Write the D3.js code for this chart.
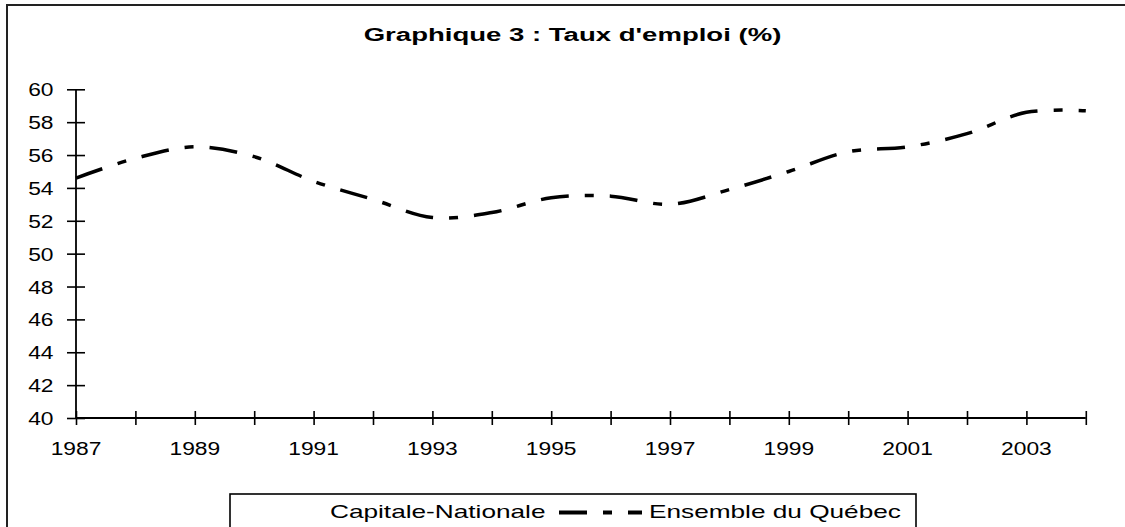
<!DOCTYPE html>
<html>
<head>
<meta charset="utf-8">
<script src="https://cdnjs.cloudflare.com/ajax/libs/d3/7.8.5/d3.min.js"></script>
<style>
  html, body { margin: 0; padding: 0; background: #fff; }
  svg { display: block; font-family: "Liberation Sans", Arial, sans-serif; }
</style>
</head>
<body>
<div id="chart"></div>
<script>
// Data
const years = [1987, 1988, 1989, 1990, 1991, 1992, 1993, 1994, 1995,
               1996, 1997, 1998, 1999, 2000, 2001, 2002, 2003, 2004];
const quebec = [54.6, 55.8, 56.5, 55.9, 54.4, 53.3, 52.2, 52.5, 53.4,
                53.5, 53.0, 53.9, 55.0, 56.2, 56.5, 57.3, 58.6, 58.7];
const yearLabels = [1987, 1989, 1991, 1993, 1995, 1997, 1999, 2001, 2003];
const yTicks = [40, 42, 44, 46, 48, 50, 52, 54, 56, 58, 60];
const seriesNames = ["Capitale-Nationale", "Ensemble du Québec"];

const W = 1125, H = 527;
const plot = { left: 76, right: 1085.8, top: 89.3, bottom: 418 };
const dash = "28,16,9,16";

const svg = d3.select("#chart").append("svg")
  .attr("width", W)
  .attr("height", H);

// outer frame (runs off the right and bottom edges)
svg.append("rect")
  .attr("x", 7).attr("y", 5)
  .attr("width", 1300).attr("height", 700)
  .attr("fill", "none")
  .attr("stroke", "#222")
  .attr("stroke-width", 2);

// helper: text squeezed wider like in the source picture
function stretchedText(g, x, y, str, k, anchor) {
  return g.append("g")
    .attr("transform", "translate(" + x + "," + y + ") scale(" + k + ",1)")
    .append("text")
    .attr("text-anchor", anchor)
    .attr("fill", "#000")
    .text(str);
}

// title
stretchedText(svg, 572.5, 41, "Graphique 3 : Taux d'emploi (%)", 1.45, "middle")
  .style("font-size", "19px")
  .style("font-weight", "bold");

// scales
const x = d3.scalePoint()
  .domain(years)
  .range([plot.left, plot.right]);

const y = d3.scaleLinear()
  .domain([40, 60])
  .range([plot.bottom, plot.top]);

// y axis
const yAxis = d3.axisLeft(y)
  .tickValues(yTicks)
  .tickSize(9)
  .tickFormat("");

const gy = svg.append("g")
  .attr("transform", "translate(" + plot.left + ",0)")
  .call(yAxis);
gy.select(".domain").remove();
gy.selectAll(".tick line")
  .attr("x1", -9).attr("x2", 9)
  .attr("stroke", "#000").attr("stroke-width", 1.6);

yTicks.forEach(v => {
  stretchedText(svg, 53.5, y(v) + 7, String(v), 1.2, "end")
    .style("font-size", "19px");
});

// x axis
const xAxis = d3.axisBottom(x)
  .tickSize(7)
  .tickFormat("");

const gx = svg.append("g")
  .attr("transform", "translate(0," + plot.bottom + ")")
  .call(xAxis);
gx.select(".domain").remove();
gx.selectAll(".tick line")
  .attr("y1", -7).attr("y2", 7)
  .attr("stroke", "#000").attr("stroke-width", 1.6);

yearLabels.forEach(yr => {
  stretchedText(svg, x(yr), 454.5, String(yr), 1.2, "middle")
    .style("font-size", "19px");
});

// axis lines
svg.append("line")
  .attr("x1", plot.left).attr("x2", plot.left)
  .attr("y1", y(60)).attr("y2", plot.bottom)
  .attr("stroke", "#000").attr("stroke-width", 1.8);
svg.append("line")
  .attr("x1", plot.left).attr("x2", x(2004))
  .attr("y1", plot.bottom).attr("y2", plot.bottom)
  .attr("stroke", "#000").attr("stroke-width", 1.8);

// Ensemble du Québec line (smoothed, long dash / short dash)
const line = d3.line()
  .x((d, i) => x(years[i]))
  .y(d => y(d))
  .curve(d3.curveCatmullRom.alpha(0.5));

svg.append("path")
  .datum(quebec)
  .attr("d", line)
  .attr("fill", "none")
  .attr("stroke", "#000")
  .attr("stroke-width", 3.5)
  .attr("stroke-dasharray", dash);

// legend
const leg = svg.append("g");
leg.append("rect")
  .attr("x", 230).attr("y", 494)
  .attr("width", 686).attr("height", 100)
  .attr("fill", "#fff")
  .attr("stroke", "#000")
  .attr("stroke-width", 1.6);

// first sample is white in the source, so it does not show
leg.append("line")
  .attr("x1", 245).attr("x2", 320)
  .attr("y1", 512.5).attr("y2", 512.5)
  .attr("stroke", "#fff").attr("stroke-width", 3.4);
stretchedText(leg, 330, 517.5, seriesNames[0], 1.38, "start")
  .style("font-size", "19px");

leg.append("line")
  .attr("x1", 559).attr("x2", 642)
  .attr("y1", 512.5).attr("y2", 512.5)
  .attr("stroke", "#000").attr("stroke-width", 4)
  .attr("stroke-dasharray", dash);
stretchedText(leg, 649, 517.5, seriesNames[1], 1.38, "start")
  .style("font-size", "19px");
</script>
</body>
</html>
